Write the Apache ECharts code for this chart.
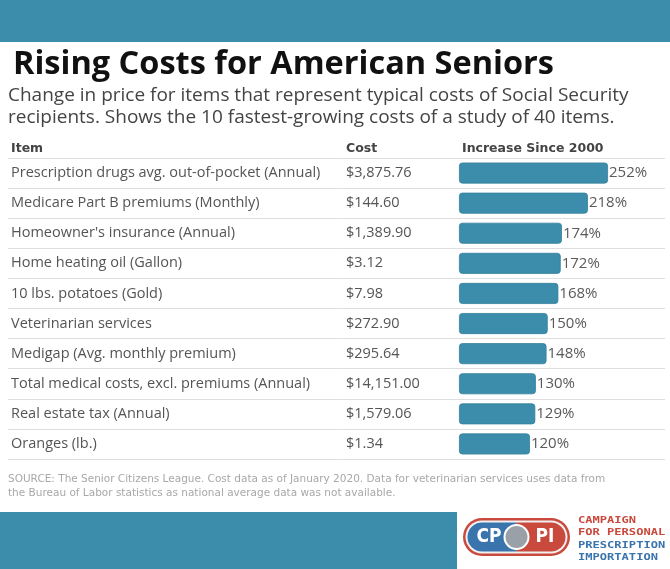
<!DOCTYPE html>
<html>
<head>
<meta charset="utf-8">
<script src="https://cdn.jsdelivr.net/npm/echarts@6/dist/echarts.min.js"></script>
<style>
html,body{margin:0;padding:0;background:#fff;}
#chart{width:670px;height:569px;}
</style>
</head>
<body>
<div id="chart"></div>
<script>
const items = [
  "Prescription drugs avg. out-of-pocket (Annual)",
  "Medicare Part B premiums (Monthly)",
  "Homeowner's insurance (Annual)",
  "Home heating oil (Gallon)",
  "10 lbs. potatoes (Gold)",
  "Veterinarian services",
  "Medigap (Avg. monthly premium)",
  "Total medical costs, excl. premiums (Annual)",
  "Real estate tax (Annual)",
  "Oranges (lb.)"
];
const costs = ["$3,875.76","$144.60","$1,389.90","$3.12","$7.98","$272.90","$295.64","$14,151.00","$1,579.06","$1.34"];
const increases = [252, 218, 174, 172, 168, 150, 148, 130, 129, 120];
const headers = ["Item", "Cost", "Increase Since 2000"];
const titleText = "Rising Costs for American Seniors";
const subtitleText = "Change in price for items that represent typical costs of Social Security\nrecipients. Shows the 10 fastest-growing costs of a study of 40 items.";
const sourceText = "SOURCE: The Senior Citizens League. Cost data as of January 2020. Data for veterinarian services uses data from\nthe Bureau of Labor statistics as national average data was not available.";
const logoLines = ["CAMPAIGN", "FOR PERSONAL", "PRESCRIPTION", "IMPORTATION"];

const FONT = '"Open Sans", "DejaVu Sans", sans-serif';
const WIDE = '"DejaVu Sans", sans-serif';
const BLUE = '#3b8dab';
const RED = '#c94a3c';
const LOGOBLUE = '#3a74ad';
const chart = echarts.init(document.getElementById('chart'));

const headerStyle = { fontFamily: WIDE, fontSize: 12.5, fontWeight: 'bold', color: '#444' };
const logoText = (t, y, c) => ({ type: 'text', x: 578, y: y, scaleX: 1.42,
  style: { text: t, fill: c, font: 'bold 8.5px "DejaVu Sans Mono", monospace', verticalAlign: 'middle' } });

const option = {
  backgroundColor: '#ffffff',
  animation: false,
  title: [
    { text: titleText, left: 13, top: 48, padding: 0, textStyle: { fontFamily: FONT, fontSize: 32.5, fontWeight: 'bold', color: '#111' } },
    { text: subtitleText, left: 8, top: 85, padding: 0, textStyle: { fontFamily: FONT, fontSize: 19, fontWeight: 'normal', color: '#444', lineHeight: 21.5 } },
    { text: headers[0], left: 11, top: 142, padding: 0, textStyle: headerStyle },
    { text: headers[1], left: 346, top: 142, padding: 0, textStyle: headerStyle },
    { text: headers[2], left: 462, top: 142, padding: 0, textStyle: headerStyle }
    ,{ text: sourceText, left: 8, top: 472, padding: 0, textStyle: { fontFamily: WIDE, fontSize: 10.5, fontWeight: 'normal', color: '#a8a8a8', lineHeight: 14 } }
  ],
  grid: [
    { left: 459, top: 158, width: 177.4, height: 301, containLabel: false },
    { left: 8, right: 5, top: 158, height: 301, containLabel: false }
  ],
  xAxis: [
    { gridIndex: 0, type: 'value', min: 0, max: 300, show: false },
    { gridIndex: 1, type: 'value', min: 0, max: 1, show: false }
  ],
  yAxis: [
    { gridIndex: 0, type: 'category', data: items, inverse: true,
      axisLine: { show: false }, axisTick: { show: false }, splitLine: { show: false },
      axisLabel: { align: 'left', margin: 448, fontFamily: FONT, fontSize: 14.5, color: '#555' } },
    { gridIndex: 0, type: 'category', data: costs, inverse: true, position: 'left',
      axisLine: { show: false }, axisTick: { show: false }, splitLine: { show: false },
      axisLabel: { align: 'left', margin: 113, fontFamily: FONT, fontSize: 14.5, color: '#555' } },
    { gridIndex: 1, type: 'category', data: items, inverse: true,
      axisLine: { show: false }, axisTick: { show: false }, axisLabel: { show: false },
      splitLine: { show: true, lineStyle: { color: '#dedede', width: 1 } } }
  ],
  series: [
    { type: 'bar', xAxisIndex: 0, yAxisIndex: 0, data: increases, barWidth: 21,
      itemStyle: { color: BLUE, borderRadius: 3, borderColor: '#34809c', borderWidth: 0.8 },
      label: { show: true, position: 'right', distance: 1, formatter: '{c}%', fontFamily: FONT, fontSize: 15, color: '#5a5a5a' } }
  ],
  graphic: [
    { type: 'rect', left: 0, top: 0, shape: { width: 670, height: 42 }, style: { fill: BLUE }, silent: true },
    { type: 'rect', left: 0, top: 512, shape: { width: 457, height: 57 }, style: { fill: BLUE }, silent: true },
    { type: 'group', x: 463, y: 518, children: [
      { type: 'rect', shape: { x: 0, y: 0, width: 107, height: 38, r: 19 }, style: { fill: RED } },
      { type: 'rect', shape: { x: 2.5, y: 2.5, width: 102, height: 33, r: 16.5 }, style: { fill: '#f1f1f1' } },
      { type: 'rect', shape: { x: 4.5, y: 4.5, width: 49, height: 29, r: [14.5, 0, 0, 14.5] }, style: { fill: LOGOBLUE } },
      { type: 'rect', shape: { x: 53.5, y: 4.5, width: 49, height: 29, r: [0, 14.5, 14.5, 0] }, style: { fill: RED } },
      { type: 'circle', shape: { cx: 53.5, cy: 19, r: 12 }, style: { fill: '#9aa0a8', stroke: '#ffffff', lineWidth: 2 } },
      { type: 'text', style: { x: 26, y: 19, text: 'CP', fill: '#ffffff', font: 'bold 19px "DejaVu Sans Condensed", sans-serif', align: 'center', verticalAlign: 'middle' } },
      { type: 'text', style: { x: 82, y: 19, text: 'PI', fill: '#ffffff', font: 'bold 19px "DejaVu Sans Condensed", sans-serif', align: 'center', verticalAlign: 'middle' } }
    ] },
    logoText(logoLines[0], 521, RED),
    logoText(logoLines[1], 533, RED),
    logoText(logoLines[2], 545.5, LOGOBLUE),
    logoText(logoLines[3], 558, LOGOBLUE)
  ]
};
chart.setOption(option);
</script>
</body>
</html>
